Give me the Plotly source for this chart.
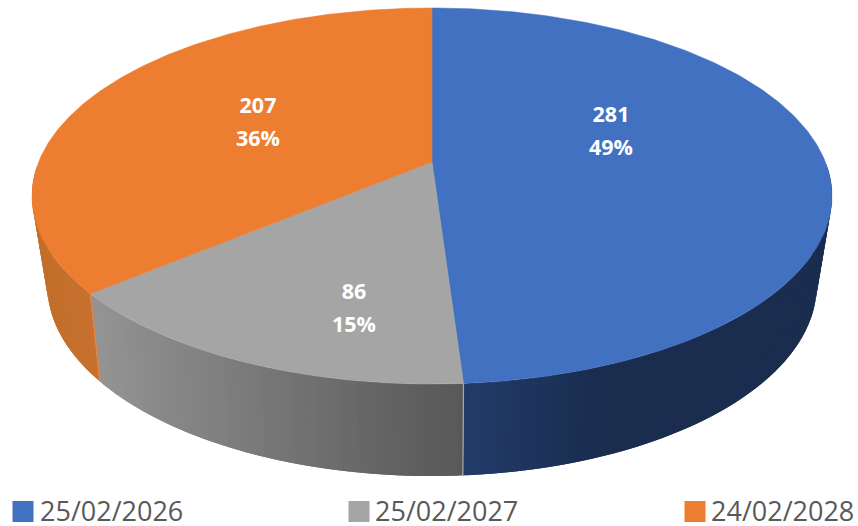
import numpy as np
import plotly.graph_objects as go

categories = ["25/02/2026", "25/02/2027", "24/02/2028"]
values = [281, 86, 207]
top_colors = ["#4371C2", "#A5A5A5", "#EC7D31"]

total = sum(values)
percents = [f"{round(v / total * 100)}%" for v in values]
fractions = np.cumsum([0] + values) / total * 2 * np.pi

CX = 432.0


def top_ring(t):
    X, Z = np.sin(t), -np.cos(t)
    d = 1 - 0.1809 * Z
    return CX + 393.4 * X / d, 162 + 181.9 * Z / d


def bottom_ring(t):
    X, Z = np.sin(t), -np.cos(t)
    d = 1 - 0.2 * Z
    return CX + 377 * X / d, 246.8 + 183.4 * Z / d


def lerp_hex(a, b, f):
    f = min(max(f, 0), 1)
    ca = [int(a[i:i + 2], 16) for i in (1, 3, 5)]
    cb = [int(b[i:i + 2], 16) for i in (1, 3, 5)]
    return "#" + "".join(f"{round(p + (q - p) * f):02x}" for p, q in zip(ca, cb))


def side_color(i, x):
    if i == 0:
        return lerp_hex("#223B69", "#1A2D4F", (x - 463) / 130)
    if i == 1:
        return lerp_hex("#939393", "#585858", (x - 100) / 360)
    return lerp_hex("#C26E2A", "#C87130", (x - 40) / 60)


fig = go.Figure()

# side wall strips, back to front; each overlaps its neighbours to hide seams
overlap = np.radians(0.5)
strips = []
for i in range(3):
    a0, a1 = fractions[i], fractions[i + 1]
    n = max(2, int(np.degrees(a1 - a0)))
    edges = np.linspace(a0, a1, n + 1)
    for s, e in zip(edges[:-1], edges[1:]):
        m = (s + e) / 2
        if -np.cos(m) > 0.02:
            strips.append((-np.cos(m), i, max(a0, s - overlap), min(a1, e + overlap)))
strips.sort(key=lambda r: r[0])
for _, i, s, e in strips:
    ts = np.linspace(s, e, 3)
    tx, ty = top_ring(ts)
    bx, by = bottom_ring(ts[::-1])
    xs = np.r_[tx, bx, tx[0]]
    ys = np.r_[ty, by, ty[0]]
    c = side_color(i, float(top_ring((s + e) / 2)[0]))
    fig.add_trace(go.Scatter(x=xs, y=ys, mode="lines", fill="toself", fillcolor=c,
                             line=dict(color=c, width=0), hoverinfo="skip", showlegend=False))

# thin bright edges where the side faces meet
for k, col in ((1, "#A8A8A8"), (2, "#F08233")):
    t = fractions[k]
    tx, ty = top_ring(t)
    bx, by = bottom_ring(t)
    fig.add_trace(go.Scatter(x=[tx, bx], y=[ty, by], mode="lines",
                             line=dict(color=col, width=1.2), hoverinfo="skip", showlegend=False))

# top faces
for i in range(3):
    ts = np.linspace(fractions[i], fractions[i + 1], 240)
    rx, ry = top_ring(ts)
    xs = np.r_[CX, rx, CX]
    ys = np.r_[162, ry, 162]
    fig.add_trace(go.Scatter(x=xs, y=ys, mode="lines", fill="toself", fillcolor=top_colors[i],
                             line=dict(color=top_colors[i], width=0.5),
                             hoverinfo="skip", showlegend=False))

# data labels
label_x = [611, 354, 258]
count_y = [117, 294, 108]
pct_y = [150, 327, 141]
label_font = dict(family="Open Sans", size=21.5, color="white", weight="bold")
fig.add_trace(go.Scatter(x=label_x, y=count_y, mode="text", text=[str(v) for v in values],
                         textfont=label_font, textposition="middle center",
                         hoverinfo="skip", showlegend=False))
fig.add_trace(go.Scatter(x=label_x, y=pct_y, mode="text", text=percents,
                         textfont=label_font, textposition="middle center",
                         hoverinfo="skip", showlegend=False))

# legend row
fig.add_trace(go.Scatter(x=[23, 359, 695], y=[511.5] * 3, mode="markers",
                         marker=dict(symbol="square", size=21, color=top_colors),
                         hoverinfo="skip", showlegend=False))
fig.add_trace(go.Scatter(x=[40, 375, 711], y=[514] * 3, mode="text",
                         text=categories, textposition="middle right",
                         textfont=dict(family="Open Sans", size=27, color="#595959"),
                         hoverinfo="skip", showlegend=False))

fig.update_layout(width=858, height=526, margin=dict(l=0, r=0, t=0, b=0),
                  paper_bgcolor="white", plot_bgcolor="white", showlegend=False)
fig.update_xaxes(range=[0, 858], visible=False, fixedrange=True)
fig.update_yaxes(range=[526, 0], visible=False, fixedrange=True)
fig.write_html("out.html", config=dict(displayModeBar=False),
               post_script="document.body.style.margin='0';document.documentElement.style.overflow='hidden';")
